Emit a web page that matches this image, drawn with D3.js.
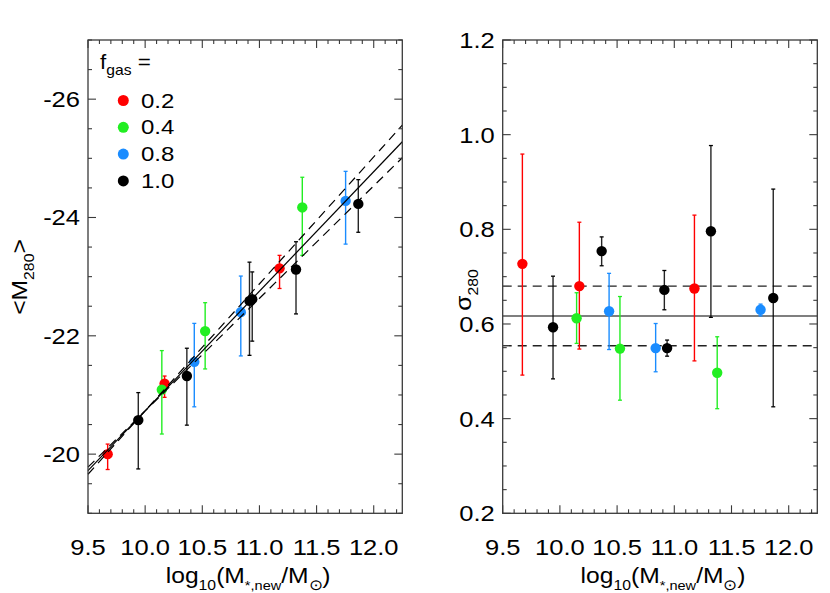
<!DOCTYPE html>
<html><head><meta charset="utf-8">
<script src="https://cdn.jsdelivr.net/npm/d3@7"></script>
<style>
body{margin:0;background:#fff}
svg{display:block}
text{font-family:"Liberation Sans",Arial,Helvetica,sans-serif;fill:#000}
</style>
</head><body>
<svg id="c" width="830" height="593"></svg>
<script>
// ---------------- DATA ----------------
const groups = ["0.2", "0.4", "0.8", "1.0"];
const groupColors = ["#ff0000", "#22ee22", "#1a8cff", "#000000"];
// group index of each point (f_gas)
const fgasIndex = [0, 3, 1, 0, 3, 2, 1, 2, 3, 3, 0, 3, 1, 2, 3];
const logMass = [9.672, 9.94, 10.146, 10.17, 10.365, 10.43, 10.525, 10.837, 10.913, 10.937, 11.176, 11.32, 11.375, 11.754, 11.865];
// left panel: mean magnitude <M280> with error range
const meanM = [-20.0, -20.575, -21.09, -21.19, -21.32, -21.56, -22.08, -22.40, -22.59, -22.62, -23.14, -23.12, -24.17, -24.28, -24.23];
const meanMBright = [-20.17, -21.04, -21.75, -21.32, -21.79, -22.21, -22.56, -23.01, -23.245, -23.08, -23.36, -23.59, -24.68, -24.78, -24.64];
const meanMFaint = [-19.74, -19.75, -20.34, -20.96, -20.49, -20.80, -21.44, -21.66, -21.67, -21.91, -22.80, -22.37, -23.36, -23.55, -23.75];
// right panel: sigma_280 with error range
const sigma = [0.727, 0.593, 0.612, 0.680, 0.754, 0.627, 0.548, 0.549, 0.672, 0.549, 0.675, 0.796, 0.497, 0.630, 0.655];
const sigmaHi = [0.959, 0.701, 0.666, 0.815, 0.784, 0.707, 0.658, 0.601, 0.713, 0.566, 0.830, 0.977, 0.573, 0.642, 0.885];
const sigmaLo = [0.492, 0.484, 0.559, 0.547, 0.723, 0.546, 0.439, 0.499, 0.630, 0.532, 0.522, 0.614, 0.421, 0.617, 0.425];
// fit lines (left panel), evaluated at the x-range ends
const fitX = [9.5, 12.25];
const fitSolid = [-19.72, -25.28];
const fitSteep = [-19.66, -25.56];
const fitShallow = [-19.78, -25.01];
// right panel reference lines
const sigmaMean = 0.617;
const sigmaBand = [0.554, 0.680];
// axes
const xDomain = [9.5, 12.25];
const xTicks = [9.5, 10.0, 10.5, 11.0, 11.5, 12.0];
const leftYDomain = [-19, -27];
const leftYTicks = [-20, -22, -24, -26];
const rightYDomain = [0.2, 1.2];
const rightYTicks = [0.2, 0.4, 0.6, 0.8, 1.0, 1.2];

// ---------------- LAYOUT ----------------
const svg = d3.select("#c");
const plotTop = 40, plotBottom = 513.3;
const panels = [
  {x0: 88, x1: 402.3},
  {x0: 502.7, x1: 817.3}
];
const SX = 1.16; // horizontal stretch of the glyphs in the reference
const axisColor = "#3a3a3a";

function addText(g, x, y, parts, opts = {}) {
  const size = opts.size || 22;
  const t = g.append("text")
    .attr("transform", `translate(${x},${y}) ${opts.rotate ? "rotate(" + opts.rotate + ")" : ""} scale(${opts.sx || SX},1)`)
    .attr("text-anchor", opts.anchor || "start")
    .style("font-size", size + "px");
  let shift = 0;
  parts.forEach(p => {
    const s = p.sub ? (p.size || size * 0.64) : size;
    const target = p.sub ? size * 0.3 : 0;
    const ts = t.append("tspan").text(p.t).style("font-size", s + "px");
    if (target !== shift) { ts.attr("dy", target - shift); shift = target; }
  });
  return t;
}

function drawFrame(g, x, y, yMinorStep, yMajor, yFmt) {
  const [xa, xb] = x.range();
  const [ya, yb] = y.range(); // ya bottom, yb top
  g.append("rect").attr("x", xa).attr("y", yb).attr("width", xb - xa).attr("height", ya - yb)
    .attr("fill", "none").attr("stroke", axisColor).attr("stroke-width", 1.3);
  const xMinor = d3.range(95, 123).map(v => v / 10).filter(v => v >= xDomain[0] && v <= xDomain[1] + 1e-9);
  xMinor.forEach(v => {
    const major = xTicks.some(t => Math.abs(t - v) < 1e-6);
    const L = major ? 8 : 4;
    g.append("line").attr("x1", x(v)).attr("x2", x(v)).attr("y1", ya).attr("y2", ya - L)
      .attr("stroke", axisColor).attr("stroke-width", 1.1);
    g.append("line").attr("x1", x(v)).attr("x2", x(v)).attr("y1", yb).attr("y2", yb + L)
      .attr("stroke", axisColor).attr("stroke-width", 1.1);
  });
  const d = y.domain();
  const lo = Math.min(d[0], d[1]), hi = Math.max(d[0], d[1]);
  const n = Math.round((hi - lo) / yMinorStep);
  for (let i = 0; i <= n; i++) {
    const v = lo + i * yMinorStep;
    const major = yMajor.some(t => Math.abs(t - v) < 1e-6);
    const L = major ? 8 : 4;
    g.append("line").attr("x1", xa).attr("x2", xa + L).attr("y1", y(v)).attr("y2", y(v))
      .attr("stroke", axisColor).attr("stroke-width", 1.1);
    g.append("line").attr("x1", xb).attr("x2", xb - L).attr("y1", y(v)).attr("y2", y(v))
      .attr("stroke", axisColor).attr("stroke-width", 1.1);
  }
  yMajor.forEach(v => addText(g, xa - 8, y(v) + 8, [{t: yFmt(v)}], {anchor: "end"}));
  xTicks.forEach(v => addText(g, x(v), 555, [{t: d3.format(".1f")(v)}], {anchor: "middle"}));
  addText(g, (xa + xb) / 2 + 3, 583, [
    {t: "log"}, {t: "10", sub: true}, {t: "(M"}, {t: "*,new", sub: true, size: 13},
    {t: "/M"}, {t: "\u2299", sub: true, size: 15}, {t: ")"}
  ], {anchor: "middle", sx: 1.12});
}

function drawPoints(g, x, y, vals, lo, hi) {
  const order = d3.range(vals.length).sort((a, b) => fgasIndex[a] - fgasIndex[b] || a - b);
  const eg = g.append("g");
  const pg = g.append("g");
  order.forEach(i => {
    const c = groupColors[fgasIndex[i]];
    const px = x(logMass[i]);
    eg.append("line").attr("x1", px).attr("x2", px).attr("y1", y(lo[i])).attr("y2", y(hi[i]))
      .attr("stroke", c).attr("stroke-width", 1.4).attr("opacity", fgasIndex[i] === 3 ? 0.85 : 1);
    [lo[i], hi[i]].forEach(v => eg.append("line").attr("x1", px - 2).attr("x2", px + 2)
      .attr("y1", y(v)).attr("y2", y(v)).attr("stroke", c).attr("stroke-width", 1.3));
    pg.append("circle").attr("cx", px).attr("cy", y(vals[i])).attr("r", 5.2).attr("fill", c);
  });
}

// ---------------- LEFT PANEL ----------------
{
  const p = panels[0];
  const x = d3.scaleLinear().domain(xDomain).range([p.x0, p.x1]);
  const y = d3.scaleLinear().domain(leftYDomain).range([plotBottom, plotTop]);
  const g = svg.append("g");
  drawPoints(g, x, y, meanM, meanMFaint, meanMBright);
  const line = d3.line().x((d, i) => x(fitX[i])).y(d => y(d));
  g.append("path").attr("d", line(fitSolid)).attr("fill", "none").attr("stroke", "#000").attr("stroke-width", 1.2);
  [fitSteep, fitShallow].forEach(arr =>
    g.append("path").attr("d", line(arr)).attr("fill", "none").attr("stroke", "#000")
      .attr("stroke-width", 1.2).attr("stroke-dasharray", "9,6"));
  drawFrame(g, x, y, 0.5, leftYTicks, v => String(v));
  addText(g, 27, 277, [{t: "<M"}, {t: "280", sub: true}, {t: ">"}], {anchor: "middle", rotate: -90, sx: 1.12});
  addText(g, 100, 69, [{t: "f"}, {t: "gas", sub: true, size: 14}, {t: " ="}], {size: 20, sx: 1.12});
  groups.forEach((gname, k) => {
    const cy = 100.5 + k * 26.8;
    g.append("circle").attr("cx", 123.3).attr("cy", cy).attr("r", 5.5).attr("fill", groupColors[k]);
    addText(g, 141, cy + 7, [{t: gname}], {size: 20, sx: 1.2});
  });
}

// ---------------- RIGHT PANEL ----------------
{
  const p = panels[1];
  const x = d3.scaleLinear().domain(xDomain).range([p.x0, p.x1]);
  const y = d3.scaleLinear().domain(rightYDomain).range([plotBottom, plotTop]);
  const g = svg.append("g");
  g.append("line").attr("x1", p.x0).attr("x2", p.x1).attr("y1", y(sigmaMean)).attr("y2", y(sigmaMean))
    .attr("stroke", "#555").attr("stroke-width", 1.4);
  sigmaBand.forEach(v => g.append("line").attr("x1", p.x0).attr("x2", p.x1).attr("y1", y(v)).attr("y2", y(v))
    .attr("stroke", "#222").attr("stroke-width", 1.3).attr("stroke-dasharray", "9,6"));
  drawPoints(g, x, y, sigma, sigmaLo, sigmaHi);
  drawFrame(g, x, y, 0.05, rightYTicks, v => d3.format(".1f")(v));
  addText(g, 471, 290, [{t: "\u03c3"}, {t: "280", sub: true}], {anchor: "middle", rotate: -90, sx: 1.12});
}
</script>
</body></html>
